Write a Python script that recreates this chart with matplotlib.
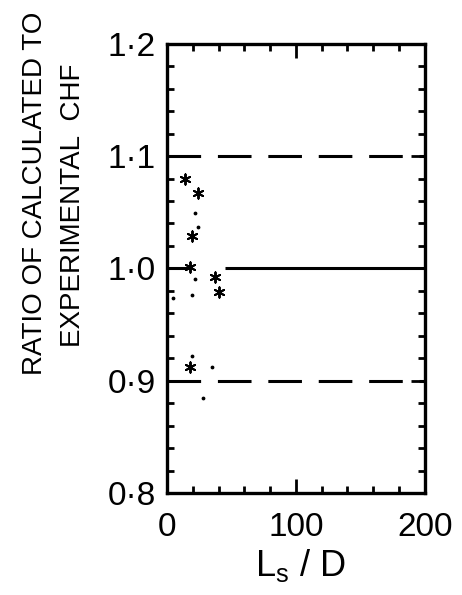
import matplotlib.pyplot as plt
from matplotlib.ticker import MultipleLocator, FixedLocator

# data
star_ls_d = [14, 24, 19, 18, 37, 40, 18]
star_ratio = [1.080, 1.067, 1.029, 1.001, 0.992, 0.979, 0.912]
dot_ls_d = [22, 24, 22, 19, 5, 19, 35, 28]
dot_ratio = [1.049, 1.037, 0.991, 0.976, 0.974, 0.922, 0.912, 0.885]

band_levels = [0.9, 1.1]
x_ticks = [0, 100, 200]
x_tick_labels = ["0", "100", "200"]
y_ticks = [0.8, 0.9, 1.0, 1.1, 1.2]
y_tick_labels = ["0·8", "0·9", "1·0", "1·1", "1·2"]

plt.rcParams["font.family"] = ["Liberation Sans", "DejaVu Sans"]

fig = plt.figure(figsize=(4.62, 5.95), dpi=100)
ax = fig.add_axes([0.3615, 0.1714, 0.558, 0.755])
ax.set_xlim(0, 200)
ax.set_ylim(0.8, 1.2)

# reference lines: dashed at +/-10 %, solid at 1.0 (broken where points sit)
for lvl in band_levels:
    ax.axhline(lvl, color="black", lw=2.2, dashes=(11, 5.5), dash_capstyle="butt")
ax.hlines(1.0, 0, 17, color="black", lw=2.2)
ax.hlines(1.0, 45, 200, color="black", lw=2.2)

ax.scatter(star_ls_d, star_ratio, marker=(6, 2, 0), s=55, color="black", lw=1.4)
ax.scatter(dot_ls_d, dot_ratio, marker=".", s=12, color="black")

for sp in ax.spines.values():
    sp.set_linewidth(2.4)

ax.xaxis.set_major_locator(FixedLocator(x_ticks))
ax.xaxis.set_minor_locator(MultipleLocator(20))
ax.yaxis.set_major_locator(FixedLocator(y_ticks))
ax.yaxis.set_minor_locator(MultipleLocator(0.02))
ax.set_xticklabels(x_tick_labels)
ax.set_yticklabels(y_tick_labels)
ax.tick_params(which="both", direction="in", top=True, right=True, width=2.0)
ax.tick_params(which="major", length=10, labelsize=24, pad=8)
ax.tick_params(axis="x", which="major", pad=14)
ax.tick_params(which="minor", length=5)

fig.text(0.075, 0.675, "RATIO OF CALCULATED TO", rotation=90, fontsize=20,
         ha="center", va="center")
fig.text(0.157, 0.655, "EXPERIMENTAL  CHF", rotation=90, fontsize=20,
         ha="center", va="center")
fig.text(0.65, 0.05, r"L$_\mathregular{s}$ / D", fontsize=26, ha="center", va="center")

fig.savefig("out.png", dpi=100)
